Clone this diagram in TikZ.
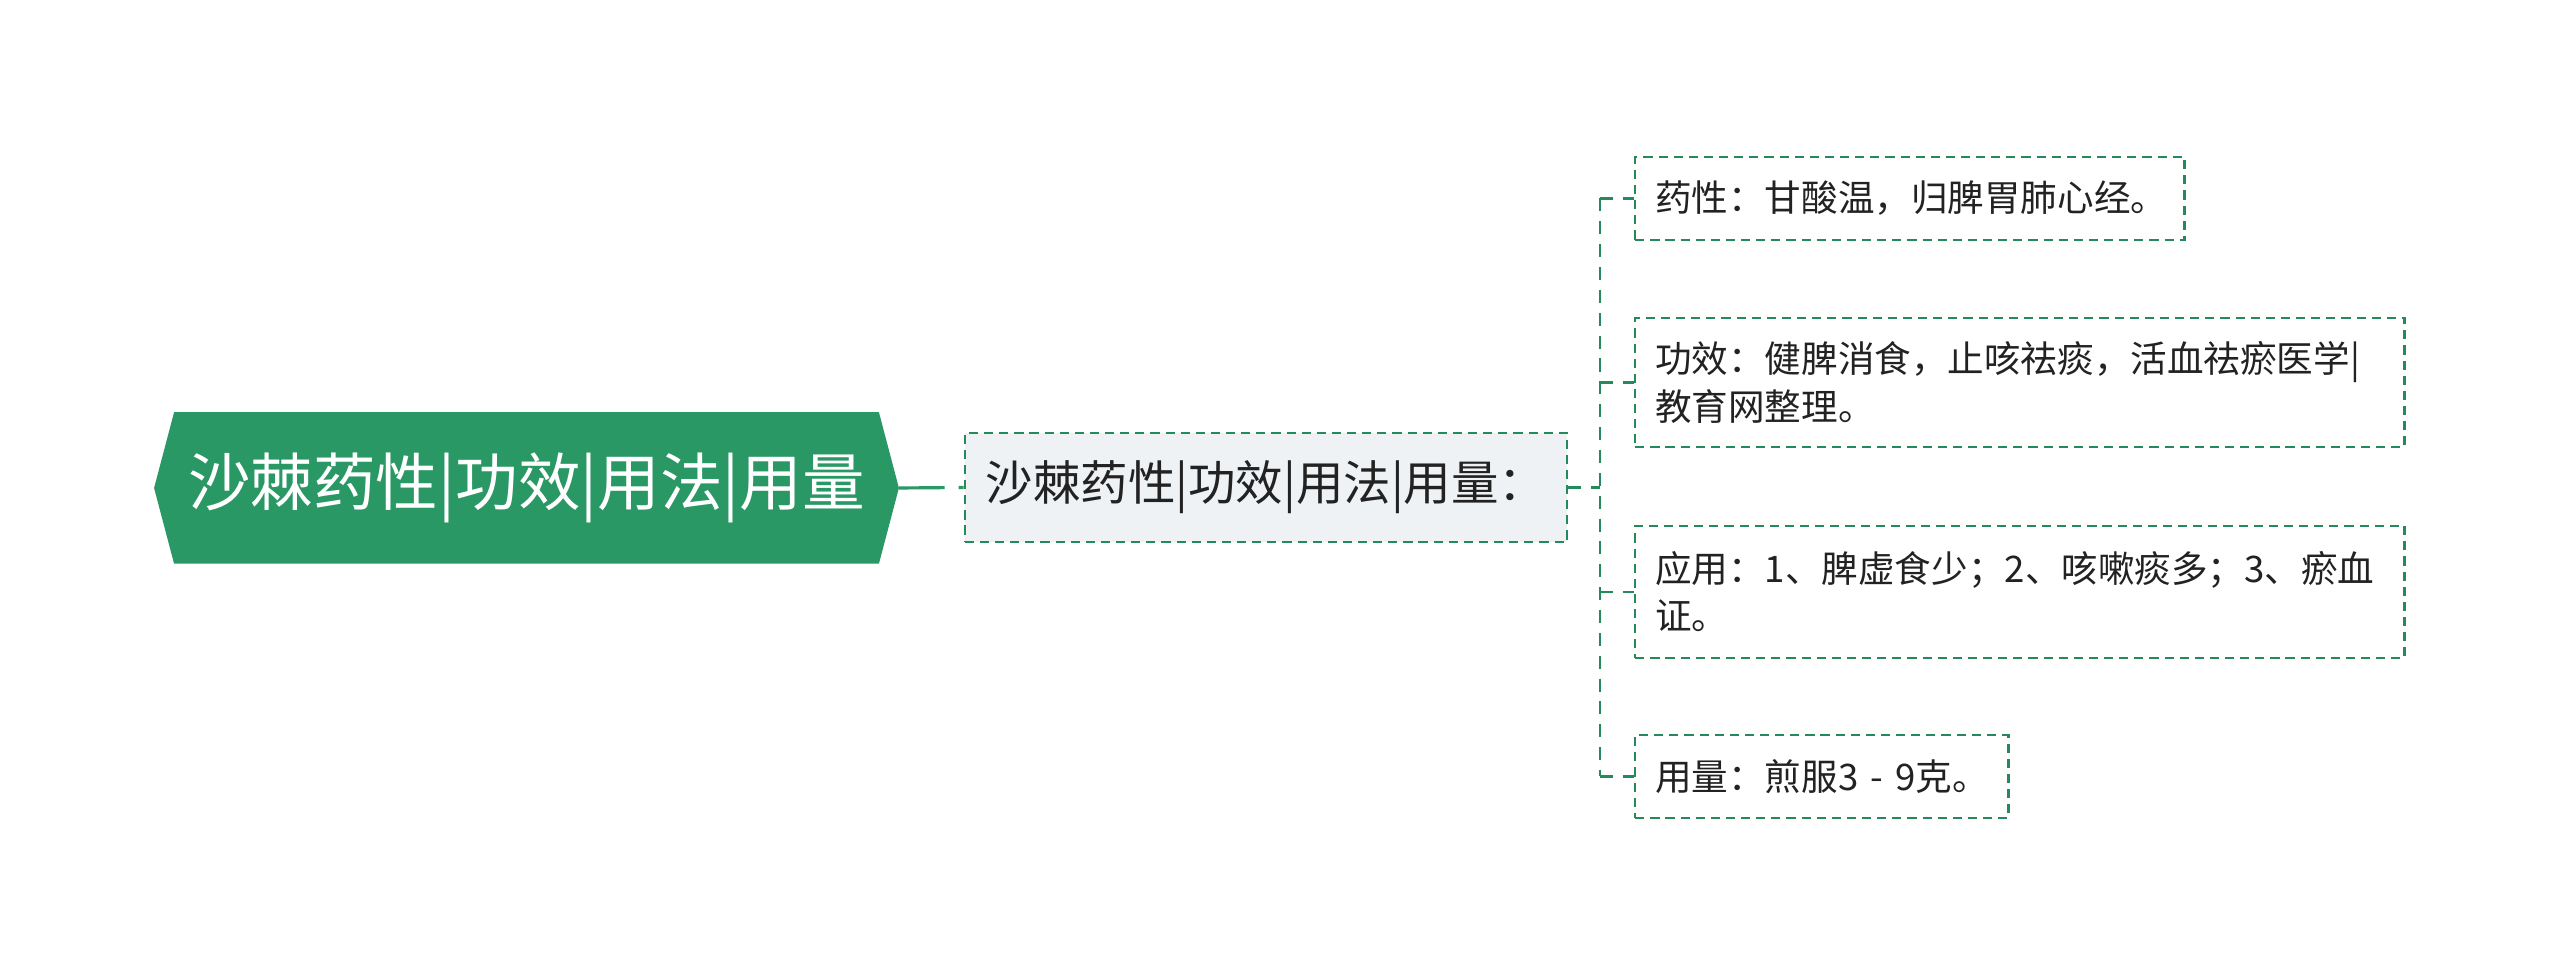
\documentclass[tikz,border=0pt]{standalone}
\usepackage{fontspec}
\setmainfont{Noto Sans CJK SC}
\usetikzlibrary{positioning,calc,backgrounds}
\definecolor{mapgreen}{RGB}{41,152,101}
\definecolor{linegreen}{RGB}{36,138,92}
\definecolor{midfill}{RGB}{239,242,245}
\definecolor{textdark}{RGB}{34,34,34}

\begin{document}
\begin{tikzpicture}[
  x=0.01cm, y=-0.01cm,
  roottext/.style={text=white, font=\fontsize{17.8}{20}\selectfont, minimum width=7.43cm, minimum height=1.5cm, inner sep=0pt},
  midbox/.style={draw=linegreen, line width=0.7pt, dash pattern=on 2.6pt off 1.7pt, fill=midfill, text=textdark, font=\fontsize{13.5}{16}\selectfont, minimum width=6.02cm, minimum height=1.09cm, inner sep=0pt},
  leafbox/.style={draw=linegreen, line width=0.7pt, dash pattern=on 2.6pt off 1.7pt, text=textdark, font=\fontsize{10.4}{13.4}\selectfont, align=left, inner xsep=0.2cm, inner ysep=0pt, anchor=west},
  link/.style={draw=linegreen, line width=0.7pt, dash pattern=on 3.7pt off 2.8pt},
  rootlink/.style={draw=mapgreen, line width=0.9pt, dash pattern=on 13pt off 4pt on 2.5pt off 10pt}
]
  \useasboundingbox (0,0) rectangle (2560,977);
  % root and the summary box
  \node[roottext] (root) at (526.5,488) {沙棘药性|功效|用法|用量};
  \node[midbox] (mid) at (1266,487.5) {沙棘药性|功效|用法|用量：};
  % leaves
  \node[leafbox, text width=5.09cm, minimum height=0.83cm] (leaf1) at (1634,198.5) {药性：甘酸温，归脾胃肺心经。};
  \node[leafbox, text width=7.29cm, minimum height=1.29cm] (leaf2) at (1634,382.5) {功效：健脾消食，止咳祛痰，活血祛瘀医学|\\教育网整理。};
  \node[leafbox, text width=7.29cm, minimum height=1.32cm] (leaf3) at (1634,592) {应用：1、脾虚食少；2、咳嗽痰多；3、瘀血\\证。};
  \node[leafbox, text width=3.33cm, minimum height=0.83cm] (leaf4) at (1634,776.5) {\mbox{用量：煎服3 - 9克。}};
  % connectors
  \coordinate (hub) at (1600,487.5);
  \draw[rootlink] (root.east) -- (mid.west);
  \draw[link] (mid.east) -- (hub);
  \draw[link] (hub|-leaf1.west) -- (hub|-leaf4.west);
  \foreach \n in {1,...,4} {
    \draw[link] (hub|-leaf\n.west) -- (leaf\n.west);
  }
  \begin{scope}[on background layer]
    \fill[white] (0,0) rectangle (2560,977);
    \fill[mapgreen] (root.west) -- ($(root.north west)+(20,0)$) -- ($(root.north east)+(-20,0)$)
      -- (root.east) -- ($(root.south east)+(-20,0)$) -- ($(root.south west)+(20,0)$) -- cycle;
  \end{scope}
\end{tikzpicture}
\end{document}
